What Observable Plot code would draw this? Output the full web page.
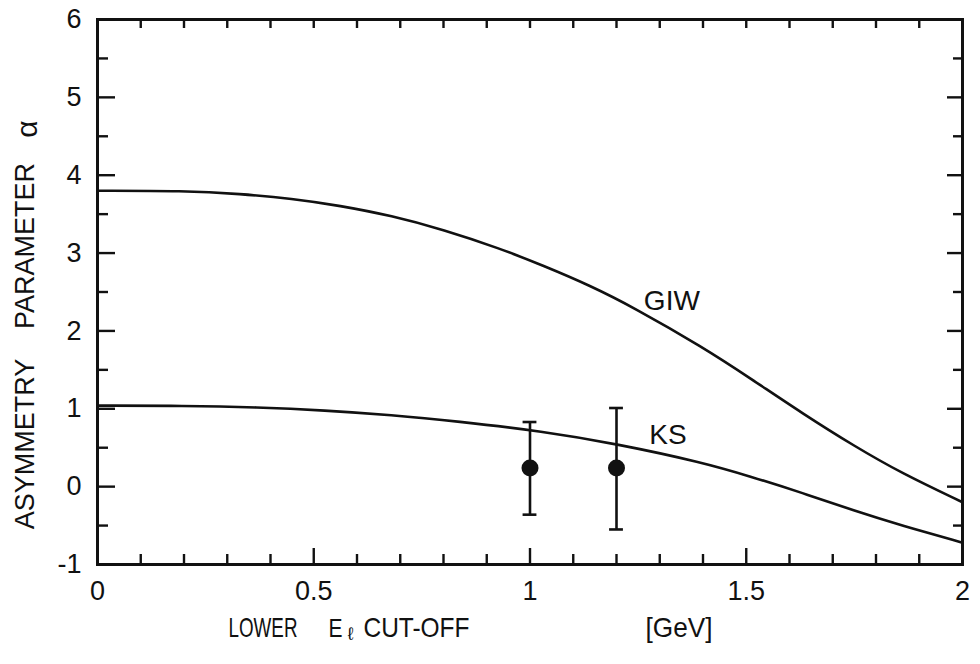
<!DOCTYPE html>
<html><head><meta charset="utf-8">
<script src="https://cdn.jsdelivr.net/npm/d3@7"></script>
<script src="https://cdn.jsdelivr.net/npm/@observablehq/plot@0.6"></script>
<style>body{margin:0;background:#fff} #chart svg{display:block}</style>
</head><body><div id="chart"></div>
<script>
// GIW curve
const giwX = [0, 0.2, 0.33, 0.45, 0.56, 0.68, 0.8, 0.93, 1.03, 1.14, 1.24, 1.4, 1.51, 1.63, 1.75, 1.86, 2.0];
const giwY = [3.80, 3.80, 3.76, 3.70, 3.61, 3.48, 3.30, 3.06, 2.84, 2.58, 2.30, 1.79, 1.39, 0.94, 0.52, 0.17, -0.20];
// KS curve
const ksX = [0, 0.2, 0.37, 0.525, 0.68, 0.83, 1.03, 1.2, 1.4, 1.51, 1.63, 1.75, 1.86, 2.0];
const ksY = [1.04, 1.04, 1.02, 0.98, 0.92, 0.84, 0.71, 0.55, 0.31, 0.13, -0.08, -0.31, -0.50, -0.72];
// measurements
const dataX = [1.0, 1.2];
const dataY = [0.24, 0.24];
const dataLo = [-0.36, -0.55];
const dataHi = [0.83, 1.01];
// curve labels
const curveLabels = ["GIW", "KS"];
const labelX = [1.328, 1.319];
const labelY = [2.38, 0.66];
// ticks
const xTickLabels = [0, 0.5, 1, 1.5, 2];
const yTickLabels = [-1, 0, 1, 2, 3, 4, 5, 6];
const xMinorTicks = d3.range(0, 21).map(i => i / 10).filter(v => Math.abs(v * 2 - Math.round(v * 2)) > 1e-9);
const xMajorTicks = [0.5, 1, 1.5];
const yHalfTicks = [-0.5, 0.5, 1.5, 2.5, 3.5, 4.5, 5.5];

const giw = giwX.map((x, i) => ({x, y: giwY[i]}));
const ks = ksX.map((x, i) => ({x, y: ksY[i]}));
const pts = dataX.map((x, i) => ({x, y: dataY[i], lo: dataLo[i], hi: dataHi[i]}));
const labels = curveLabels.map((t, i) => ({t, x: labelX[i], y: labelY[i]}));
const cap = 0.016;
const ink = "#111";
const font = "'Liberation Sans', Arial, sans-serif";
const fmt = d => String(d);

const plot = Plot.plot({
  width: 980, height: 664,
  marginLeft: 97, marginRight: 18, marginTop: 19, marginBottom: 100,
  style: {background: "#fff", color: ink, fontFamily: font},
  x: {domain: [0, 2], label: null},
  y: {domain: [-1, 6], label: null},
  marks: [
    Plot.line(giw, {x: "x", y: "y", curve: "basis", stroke: ink, strokeWidth: 2.6}),
    Plot.line(ks, {x: "x", y: "y", curve: "basis", stroke: ink, strokeWidth: 2.6}),
    Plot.ruleX(pts, {x: "x", y1: "lo", y2: "hi", stroke: ink, strokeWidth: 2.6}),
    Plot.ruleY(pts, {y: "lo", x1: d => d.x - cap, x2: d => d.x + cap, stroke: ink, strokeWidth: 2.6}),
    Plot.ruleY(pts, {y: "hi", x1: d => d.x - cap, x2: d => d.x + cap, stroke: ink, strokeWidth: 2.6}),
    Plot.dot(pts, {x: "x", y: "y", r: 8.5, fill: ink, stroke: null}),
    Plot.text(labels, {x: "x", y: "y", text: "t", fontSize: 28, fill: ink}),
    Plot.frame({stroke: ink, strokeWidth: 3}),
    // bottom ticks
    Plot.axisX({anchor: "bottom", ticks: xMinorTicks, tickSize: -10, text: null, strokeWidth: 2.4, label: null}),
    Plot.axisX({anchor: "bottom", ticks: xMajorTicks, tickSize: -16, text: null, strokeWidth: 2.4, label: null}),
    Plot.axisX({anchor: "bottom", ticks: xTickLabels, tickSize: 0, tickPadding: 16, tickFormat: fmt, fontSize: 27, label: null}),
    // top ticks
    Plot.axisX({anchor: "top", ticks: xMinorTicks.concat(xMajorTicks), tickSize: -8, text: null, strokeWidth: 2.4, label: null}),
    // left ticks
    Plot.axisY({anchor: "left", ticks: yTickLabels, tickSize: -18, text: null, strokeWidth: 2.4, label: null}),
    Plot.axisY({anchor: "left", ticks: yHalfTicks, tickSize: -11, text: null, strokeWidth: 2.4, label: null}),
    Plot.axisY({anchor: "left", ticks: yTickLabels, tickSize: 0, tickPadding: 16, tickFormat: fmt, fontSize: 27, label: null}),
    // right ticks
    Plot.axisY({anchor: "right", ticks: yTickLabels, tickSize: -16, text: null, strokeWidth: 2.4, label: null}),
    Plot.axisY({anchor: "right", ticks: yHalfTicks, tickSize: -10, text: null, strokeWidth: 2.4, label: null}),
    // y title
    Plot.text(["ASYMMETRY"], {frameAnchor: "left", textAnchor: "middle", lineAnchor: "middle", rotate: -90, dx: -72, dy: 152, fontSize: 27, fill: ink}),
    Plot.text(["PARAMETER"], {frameAnchor: "left", textAnchor: "middle", lineAnchor: "middle", rotate: -90, dx: -72, dy: -46, fontSize: 27, fill: ink}),
    Plot.text(["α"], {frameAnchor: "left", textAnchor: "middle", lineAnchor: "middle", rotate: -90, dx: -70, dy: -163, fontSize: 30, fill: ink}),
    // x title
    Plot.text(["LOWER"], {frameAnchor: "bottom-left", textAnchor: "start", lineAnchor: "middle", dx: 131, dy: 64, fontSize: 28, fill: ink}),
    Plot.text(["E"], {frameAnchor: "bottom-left", textAnchor: "start", lineAnchor: "middle", dx: 231, dy: 64, fontSize: 26, fill: ink}),
    Plot.text(["ℓ"], {frameAnchor: "bottom-left", textAnchor: "start", lineAnchor: "middle", dx: 250, dy: 70, fontSize: 18, fill: ink}),
    Plot.text(["CUT-OFF"], {frameAnchor: "bottom-left", textAnchor: "start", lineAnchor: "middle", dx: 266, dy: 64, fontSize: 28, fill: ink}),
    Plot.text(["[GeV]"], {frameAnchor: "bottom-left", textAnchor: "start", lineAnchor: "middle", dx: 548, dy: 64, fontSize: 28, fill: ink})
  ]
});

const lens = {"LOWER": 69, "E": 14, "CUT-OFF": 106, "[GeV]": 67};
d3.select(plot).selectAll("text").each(function() {
  const t = this.textContent;
  if (lens[t]) {
    this.setAttribute("textLength", lens[t]);
    this.setAttribute("lengthAdjust", "spacingAndGlyphs");
  }
});
document.getElementById("chart").appendChild(plot);
</script>
</body></html>
